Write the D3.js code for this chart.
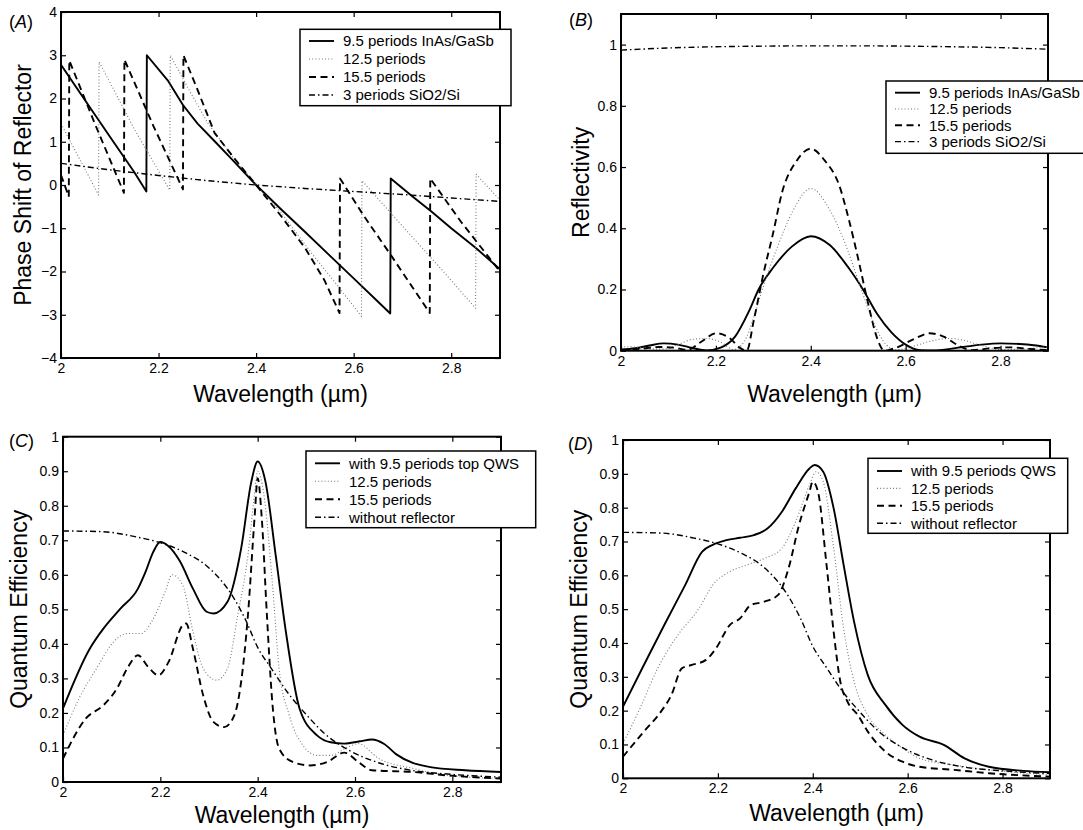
<!DOCTYPE html>
<html>
<head>
<meta charset="utf-8">
<script src="https://cdn.jsdelivr.net/npm/d3@7"></script>
<style>
  body { margin: 0; background: #fff; }
  svg { display: block; font-family: "Liberation Sans", Arial, Helvetica, sans-serif; }
</style>
</head>
<body>
<script>
// ---- data ----
var wavelengthTicks = [2, 2.2, 2.4, 2.6, 2.8];
var phaseTicks = [-4, -3, -2, -1, 0, 1, 2, 3, 4];
var reflTicks = [0, 0.2, 0.4, 0.6, 0.8, 1];
var qeTicks = [0, 0.1, 0.2, 0.3, 0.4, 0.5, 0.6, 0.7, 0.8, 0.9, 1];

var legendAB = ["9.5 periods InAs/GaSb", "12.5 periods", "15.5 periods", "3 periods SiO2/Si"];
var legendC = ["with 9.5 periods top QWS", "12.5 periods", "15.5 periods", "without reflector"];
var legendD = ["with 9.5 periods QWS", "12.5 periods", "15.5 periods", "without reflector"];

// (A) phase shift of reflector
var phase95 = [[2.0,2.78],[2.05,1.95],[2.10,1.12],[2.15,0.3],[2.175,-0.15],[2.176,3.0],[2.22,2.4],[2.25,1.85],[2.28,1.42],[2.316,1.0],[2.35,0.6],[2.40,0.0],[2.45,-0.55],[2.50,-1.08],[2.55,-1.62],[2.60,-2.16],[2.65,-2.7],[2.675,-2.97],[2.676,0.15],[2.72,-0.26],[2.76,-0.62],[2.80,-1.0],[2.85,-1.45],[2.90,-1.95]];
var phase125 = [[2.0,1.42],[2.077,-0.23],[2.078,2.85],[2.15,1.3],[2.223,-0.12],[2.224,3.0],[2.26,2.25],[2.30,1.45],[2.35,0.68],[2.40,0.0],[2.45,-0.62],[2.514,-1.58],[2.565,-2.3],[2.616,-3.04],[2.617,0.1],[2.70,-0.95],[2.78,-1.95],[2.85,-2.85],[2.851,0.25],[2.90,-0.35]];
var phase155 = [[2.0,0.23],[2.016,-0.27],[2.017,2.88],[2.07,1.4],[2.129,-0.18],[2.130,2.9],[2.19,1.35],[2.25,-0.1],[2.251,3.0],[2.28,2.2],[2.315,1.2],[2.36,0.55],[2.40,0.0],[2.45,-0.7],[2.50,-1.45],[2.54,-2.2],[2.571,-2.96],[2.572,0.15],[2.62,-0.7],[2.678,-1.65],[2.756,-2.96],[2.757,0.15],[2.82,-0.85],[2.90,-2.0]];
var phaseSiO2 = [[2.0,0.5],[2.1,0.35],[2.2,0.22],[2.3,0.1],[2.4,0.0],[2.5,-0.08],[2.6,-0.15],[2.7,-0.22],[2.8,-0.3],[2.9,-0.38]];

// (B) reflectivity
var refl95 = [[2.00,0.004],[2.03,0.008],[2.06,0.017],[2.09,0.024],[2.12,0.02],[2.15,0.009],[2.18,0.001],[2.21,0.01],[2.24,0.045],[2.27,0.13],[2.29,0.2],[2.32,0.27],[2.36,0.34],[2.40,0.374],[2.44,0.345],[2.48,0.27],[2.51,0.2],[2.54,0.12],[2.57,0.06],[2.60,0.02],[2.63,0.002],[2.66,0.001],[2.69,0.005],[2.72,0.012],[2.76,0.02],[2.80,0.024],[2.84,0.022],[2.87,0.018],[2.90,0.011]];
var refl125 = [[2.00,0.013],[2.03,0.012],[2.06,0.006],[2.09,0.006],[2.12,0.02],[2.15,0.037],[2.18,0.04],[2.21,0.028],[2.237,0.004],[2.26,0.03],[2.28,0.11],[2.30,0.21],[2.33,0.34],[2.36,0.45],[2.40,0.53],[2.44,0.46],[2.47,0.36],[2.50,0.23],[2.53,0.1],[2.56,0.018],[2.58,0.003],[2.61,0.012],[2.65,0.03],[2.69,0.04],[2.72,0.035],[2.76,0.017],[2.80,0.004],[2.84,0.005],[2.88,0.01],[2.90,0.012]];
var refl155 = [[2.00,0.002],[2.04,0.006],[2.08,0.012],[2.11,0.01],[2.14,0.003],[2.17,0.03],[2.20,0.057],[2.23,0.04],[2.25,0.01],[2.265,0.0],[2.28,0.1],[2.30,0.25],[2.32,0.38],[2.34,0.52],[2.37,0.62],[2.40,0.66],[2.43,0.62],[2.46,0.54],[2.48,0.43],[2.50,0.3],[2.52,0.16],[2.54,0.04],[2.555,0.0],[2.58,0.01],[2.62,0.04],[2.65,0.057],[2.68,0.046],[2.71,0.018],[2.74,0.002],[2.78,0.008],[2.82,0.011],[2.86,0.006],[2.90,0.002]];
var reflSiO2 = [[2.0,0.982],[2.1,0.989],[2.2,0.993],[2.3,0.995],[2.4,0.996],[2.5,0.996],[2.6,0.995],[2.7,0.993],[2.8,0.99],[2.9,0.985]];

// (C) quantum efficiency, top reflector
var qeTop95 = [[2.0,0.213],[2.055,0.386],[2.083,0.444],[2.118,0.502],[2.154,0.56],[2.17,0.61],[2.185,0.665],[2.20,0.695],[2.215,0.685],[2.24,0.64],[2.267,0.56],[2.295,0.493],[2.309,0.488],[2.338,0.522],[2.366,0.676],[2.387,0.87],[2.40,0.928],[2.416,0.87],[2.437,0.657],[2.458,0.435],[2.486,0.213],[2.522,0.135],[2.55,0.115],[2.578,0.111],[2.61,0.118],[2.635,0.123],[2.66,0.11],[2.685,0.08],[2.755,0.043],[2.826,0.034],[2.90,0.029]];
var qeTop125 = [[2.0,0.135],[2.033,0.242],[2.069,0.329],[2.104,0.406],[2.132,0.43],[2.161,0.43],[2.182,0.464],[2.21,0.551],[2.224,0.6],[2.246,0.57],[2.267,0.435],[2.288,0.329],[2.316,0.295],[2.338,0.329],[2.359,0.483],[2.38,0.657],[2.394,0.84],[2.40,0.9],[2.412,0.84],[2.43,0.58],[2.444,0.329],[2.465,0.193],[2.493,0.106],[2.522,0.077],[2.55,0.077],[2.585,0.101],[2.607,0.111],[2.649,0.068],[2.72,0.039],[2.791,0.019],[2.90,0.01]];
var qeTop155 = [[2.0,0.068],[2.047,0.184],[2.083,0.222],[2.111,0.271],[2.132,0.329],[2.154,0.367],[2.175,0.333],[2.196,0.309],[2.217,0.348],[2.246,0.454],[2.253,0.459],[2.267,0.386],[2.288,0.251],[2.309,0.174],[2.331,0.159],[2.352,0.193],[2.366,0.29],[2.38,0.483],[2.394,0.773],[2.40,0.88],[2.408,0.773],[2.419,0.483],[2.43,0.232],[2.444,0.097],[2.472,0.058],[2.508,0.048],[2.543,0.058],[2.578,0.085],[2.607,0.058],[2.635,0.034],[2.72,0.029],[2.791,0.019],[2.90,0.01]];
var qeNoReflector = [[2.0,0.727],[2.08,0.725],[2.15,0.71],[2.2,0.693],[2.25,0.665],[2.30,0.62],[2.35,0.535],[2.375,0.47],[2.40,0.39],[2.43,0.325],[2.46,0.262],[2.50,0.195],[2.54,0.137],[2.59,0.09],[2.65,0.055],[2.72,0.033],[2.80,0.022],[2.90,0.014]];

// (D) quantum efficiency, bottom reflector
var qeBot95 = [[2.0,0.212],[2.044,0.335],[2.087,0.453],[2.131,0.571],[2.167,0.67],[2.189,0.69],[2.218,0.704],[2.247,0.711],[2.276,0.719],[2.305,0.739],[2.335,0.788],[2.364,0.857],[2.393,0.916],[2.404,0.926],[2.422,0.906],[2.444,0.798],[2.465,0.631],[2.487,0.463],[2.516,0.305],[2.553,0.217],[2.589,0.158],[2.625,0.123],[2.676,0.099],[2.72,0.059],[2.771,0.034],[2.844,0.022],[2.90,0.018]];
var qeBot125 = [[2.0,0.103],[2.036,0.207],[2.073,0.325],[2.116,0.424],[2.16,0.502],[2.189,0.571],[2.225,0.611],[2.262,0.631],[2.298,0.65],[2.335,0.68],[2.364,0.759],[2.393,0.867],[2.407,0.906],[2.422,0.877],[2.444,0.68],[2.465,0.443],[2.487,0.286],[2.516,0.187],[2.553,0.128],[2.589,0.089],[2.625,0.059],[2.698,0.039],[2.771,0.025],[2.90,0.01]];
var qeBot155 = [[2.0,0.064],[2.044,0.138],[2.08,0.197],[2.102,0.246],[2.124,0.325],[2.145,0.335],[2.175,0.35],[2.196,0.384],[2.225,0.453],[2.247,0.473],[2.269,0.512],[2.298,0.522],[2.327,0.542],[2.349,0.621],[2.371,0.749],[2.393,0.847],[2.40,0.877],[2.411,0.847],[2.429,0.631],[2.444,0.433],[2.458,0.286],[2.473,0.227],[2.495,0.187],[2.516,0.138],[2.553,0.079],[2.589,0.049],[2.625,0.034],[2.698,0.025],[2.771,0.015],[2.90,0.005]];

// ---- line styles ----
var styles = {
  solid:   { stroke: "#000", width: 1.9, dash: null },
  dotted:  { stroke: "#777", width: 1.1, dash: "1,2.2" },
  dashed:  { stroke: "#000", width: 1.9, dash: "7,4.5" },
  dashdot: { stroke: "#000", width: 1.4, dash: "6,3,1.5,3" }
};
var styleOrder = ["solid", "dotted", "dashed", "dashdot"];

var svg = d3.select("body").append("svg").attr("width", 1083).attr("height", 830);
var fmt = d3.format("~g");

var panels = [
  { name: "A", left: 61, right: 500, top: 12, bottom: 358, yDomain: [-4, 4], yTicks: phaseTicks,
    series: [phase95, phase125, phase155, phaseSiO2], curve: d3.curveLinear,
    ylabel: "Phase Shift of Reflector", ylabX: 31, xlabY: 402, tag: [9, 28],
    legend: { x: 300, y: 29.3, w: 211, h: 76.4, row: 18, first: 11.7, labels: legendAB } },
  { name: "B", left: 621, right: 1048, top: 14, bottom: 350.7, yDomain: [0, 1.1], yTicks: reflTicks,
    series: [refl95, refl125, refl155, reflSiO2], curve: d3.curveMonotoneX,
    ylabel: "Reflectivity", ylabX: 589, xlabY: 402, tag: [569, 26],
    legend: { x: 886, y: 81, w: 205, h: 72.3, row: 16.3, first: 11.7, labels: legendAB } },
  { name: "C", left: 63, right: 501, top: 436.7, bottom: 782, yDomain: [0, 1], yTicks: qeTicks,
    series: [qeTop95, qeTop125, qeTop155, qeNoReflector], curve: d3.curveMonotoneX,
    ylabel: "Quantum Efficiency", ylabX: 27, xlabY: 823, tag: [9, 447],
    legend: { x: 306, y: 451, w: 229.7, h: 76.7, row: 18, first: 12.3, labels: legendC } },
  { name: "D", left: 623, right: 1050, top: 440, bottom: 778.3, yDomain: [0, 1], yTicks: qeTicks,
    series: [qeBot95, qeBot125, qeBot155, qeNoReflector], curve: d3.curveMonotoneX,
    ylabel: "Quantum Efficiency", ylabX: 587, xlabY: 821, tag: [568, 450],
    legend: { x: 868, y: 458.3, w: 199.7, h: 75, row: 17.4, first: 12.7, labels: legendD } }
];

panels.forEach(function (p) {
  var x = d3.scaleLinear().domain([2, 2.9]).range([p.left, p.right]);
  var y = d3.scaleLinear().domain(p.yDomain).range([p.bottom, p.top]);
  var g = svg.append("g");

  g.append("clipPath").attr("id", "clip" + p.name).append("rect")
    .attr("x", p.left).attr("y", p.top)
    .attr("width", p.right - p.left).attr("height", p.bottom - p.top);

  // curves
  var line = d3.line().x(function (d) { return x(d[0]); }).y(function (d) { return y(d[1]); }).curve(p.curve);
  var lines = g.append("g").attr("clip-path", "url(#clip" + p.name + ")");
  p.series.forEach(function (s, i) {
    var st = styles[styleOrder[i]];
    lines.append("path").datum(s)
      .attr("d", line)
      .attr("fill", "none")
      .attr("stroke", st.stroke)
      .attr("stroke-width", st.width)
      .attr("stroke-dasharray", st.dash)
      .attr("stroke-linejoin", "round");
  });

  // axes, ticks inward on all four sides
  var axes = [
    [d3.axisBottom(x).tickValues(wavelengthTicks).tickFormat(fmt), "translate(0," + p.bottom + ")"],
    [d3.axisTop(x).tickValues(wavelengthTicks).tickFormat(""), "translate(0," + p.top + ")"],
    [d3.axisLeft(y).tickValues(p.yTicks).tickFormat(fmt), "translate(" + p.left + ",0)"],
    [d3.axisRight(y).tickValues(p.yTicks).tickFormat(""), "translate(" + p.right + ",0)"]
  ];
  axes.forEach(function (a, i) {
    var ag = g.append("g").attr("transform", a[1])
      .call(a[0].tickSize(-5).tickPadding(i === 0 ? 5 : 4));
    ag.select(".domain").remove();
    ag.selectAll("line").attr("stroke", "#000").attr("stroke-width", 1.2);
    ag.selectAll("text").attr("fill", "#000").attr("font-size", 14)
      .attr("font-family", "'Liberation Sans', Arial, Helvetica, sans-serif");
  });

  g.append("rect")
    .attr("x", p.left).attr("y", p.top)
    .attr("width", p.right - p.left).attr("height", p.bottom - p.top)
    .attr("fill", "none").attr("stroke", "#000").attr("stroke-width", 2);

  // axis titles
  g.append("text")
    .attr("x", (p.left + p.right) / 2).attr("y", p.xlabY)
    .attr("text-anchor", "middle").attr("font-size", 23)
    .text("Wavelength (\u00b5m)");
  g.append("text")
    .attr("transform", "translate(" + p.ylabX + "," + ((p.top + p.bottom) / 2) + ") rotate(-90)")
    .attr("text-anchor", "middle").attr("font-size", 23)
    .text(p.ylabel);

  // panel tag
  var tag = g.append("text").attr("x", p.tag[0]).attr("y", p.tag[1]).attr("font-size", 18);
  tag.append("tspan").text("(");
  tag.append("tspan").attr("font-style", "italic").text(p.name);
  tag.append("tspan").text(")");

  // legend
  var L = p.legend;
  var lg = g.append("g");
  lg.append("rect")
    .attr("x", L.x).attr("y", L.y).attr("width", L.w).attr("height", L.h)
    .attr("fill", "#fff").attr("stroke", "#000").attr("stroke-width", 1.5);
  L.labels.forEach(function (lab, i) {
    var st = styles[styleOrder[i]];
    var ry = L.y + L.first + i * L.row;
    lg.append("line")
      .attr("x1", L.x + 9).attr("x2", L.x + 34).attr("y1", ry).attr("y2", ry)
      .attr("stroke", st.stroke).attr("stroke-width", st.width)
      .attr("stroke-dasharray", st.dash);
    lg.append("text")
      .attr("x", L.x + 43).attr("y", ry + 5.3)
      .attr("font-size", 15)
      .text(lab);
  });
});
</script>
</body>
</html>
